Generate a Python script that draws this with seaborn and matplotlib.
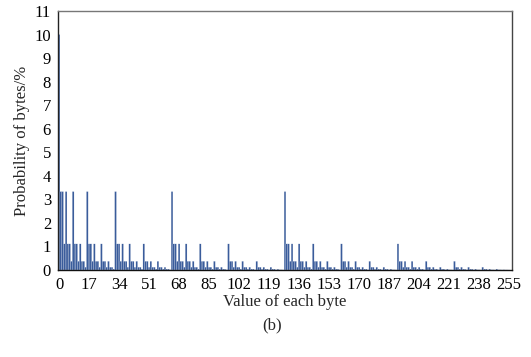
import matplotlib
matplotlib.use("Agg")
import matplotlib.pyplot as plt
import seaborn as sns
import pandas as pd

# Probability (%) of each byte value 0..255
probability = [
    10.0, 3.33, 3.33, 1.11, 3.33, 1.11, 1.11, 0.37, 3.33, 1.11, 1.11, 0.37, 1.11, 0.37, 0.37, 0.12,
    3.33, 1.11, 1.11, 0.37, 1.11, 0.37, 0.37, 0.12, 1.11, 0.37, 0.37, 0.12, 0.37, 0.12, 0.12, 0.04,
    3.33, 1.11, 1.11, 0.37, 1.11, 0.37, 0.37, 0.12, 1.11, 0.37, 0.37, 0.12, 0.37, 0.12, 0.12, 0.04,
    1.11, 0.37, 0.37, 0.12, 0.37, 0.12, 0.12, 0.04, 0.37, 0.12, 0.12, 0.04, 0.12, 0.04, 0.04, 0.01,
    3.33, 1.11, 1.11, 0.37, 1.11, 0.37, 0.37, 0.12, 1.11, 0.37, 0.37, 0.12, 0.37, 0.12, 0.12, 0.04,
    1.11, 0.37, 0.37, 0.12, 0.37, 0.12, 0.12, 0.04, 0.37, 0.12, 0.12, 0.04, 0.12, 0.04, 0.04, 0.01,
    1.11, 0.37, 0.37, 0.12, 0.37, 0.12, 0.12, 0.04, 0.37, 0.12, 0.12, 0.04, 0.12, 0.04, 0.04, 0.01,
    0.37, 0.12, 0.12, 0.04, 0.12, 0.04, 0.04, 0.01, 0.12, 0.04, 0.04, 0.01, 0.04, 0.01, 0.01, 0.005,
    3.33, 1.11, 1.11, 0.37, 1.11, 0.37, 0.37, 0.12, 1.11, 0.37, 0.37, 0.12, 0.37, 0.12, 0.12, 0.04,
    1.11, 0.37, 0.37, 0.12, 0.37, 0.12, 0.12, 0.04, 0.37, 0.12, 0.12, 0.04, 0.12, 0.04, 0.04, 0.01,
    1.11, 0.37, 0.37, 0.12, 0.37, 0.12, 0.12, 0.04, 0.37, 0.12, 0.12, 0.04, 0.12, 0.04, 0.04, 0.01,
    0.37, 0.12, 0.12, 0.04, 0.12, 0.04, 0.04, 0.01, 0.12, 0.04, 0.04, 0.01, 0.04, 0.01, 0.01, 0.005,
    1.11, 0.37, 0.37, 0.12, 0.37, 0.12, 0.12, 0.04, 0.37, 0.12, 0.12, 0.04, 0.12, 0.04, 0.04, 0.01,
    0.37, 0.12, 0.12, 0.04, 0.12, 0.04, 0.04, 0.01, 0.12, 0.04, 0.04, 0.01, 0.04, 0.01, 0.01, 0.005,
    0.37, 0.12, 0.12, 0.04, 0.12, 0.04, 0.04, 0.01, 0.12, 0.04, 0.04, 0.01, 0.04, 0.01, 0.01, 0.005,
    0.12, 0.04, 0.04, 0.01, 0.04, 0.01, 0.01, 0.005, 0.04, 0.01, 0.01, 0.005, 0.01, 0.005, 0.005, 0.002,
]
byte_values = list(range(256))
x_tick_values = [0, 17, 34, 51, 68, 85, 102, 119, 136, 153, 170, 187, 204, 221, 238, 255]
y_tick_values = [0, 1, 2, 3, 4, 5, 6, 7, 8, 9, 10, 11]

sns.set_style("white")
plt.rcParams["font.family"] = ["Liberation Serif", "DejaVu Serif"]
plt.rcParams["font.size"] = 12

df = pd.DataFrame({"byte": byte_values, "prob": probability})

fig = plt.figure(figsize=(5.31, 3.57), dpi=100)
ax = fig.add_axes([58 / 531, 1 - 270 / 357, (512 - 58) / 531, (270 - 11) / 357])

sns.barplot(data=df, x="byte", y="prob", color="#3a5c9b", saturation=1,
            width=1.0, edgecolor="white", linewidth=0.1, ax=ax, native_scale=True)
for p in ax.patches:
    p.set_snap(False)

ax.set_xlim(-0.6, 256.6)
ax.set_ylim(0, 11)
ax.set_xticks(x_tick_values)
ax.set_xticklabels([str(v) for v in x_tick_values])
ax.set_yticks(y_tick_values)
ax.set_yticklabels([str(v) for v in y_tick_values])
ax.tick_params(axis="both", direction="in", length=3, width=0.8, color="#222222",
               labelsize=12, labelcolor="black")
ax.tick_params(axis="x", pad=5)
ax.tick_params(axis="y", pad=5)

for side in ["left", "bottom", "right", "top"]:
    ax.spines[side].set_visible(True)
    ax.spines[side].set_linewidth(1.0)
ax.spines["left"].set_color("#222222")
ax.spines["bottom"].set_color("#111111")
ax.spines["right"].set_color("#444444")
ax.spines["top"].set_color("#777777")

ax.set_xlabel("Value of each byte", fontsize=12, labelpad=1)
ax.set_ylabel("Probability of bytes/%", fontsize=12, labelpad=3)

fig.text(272 / 531, 1 - 325 / 357, "(b)", ha="center", va="center", fontsize=12)

fig.savefig("out.png", dpi=100)
